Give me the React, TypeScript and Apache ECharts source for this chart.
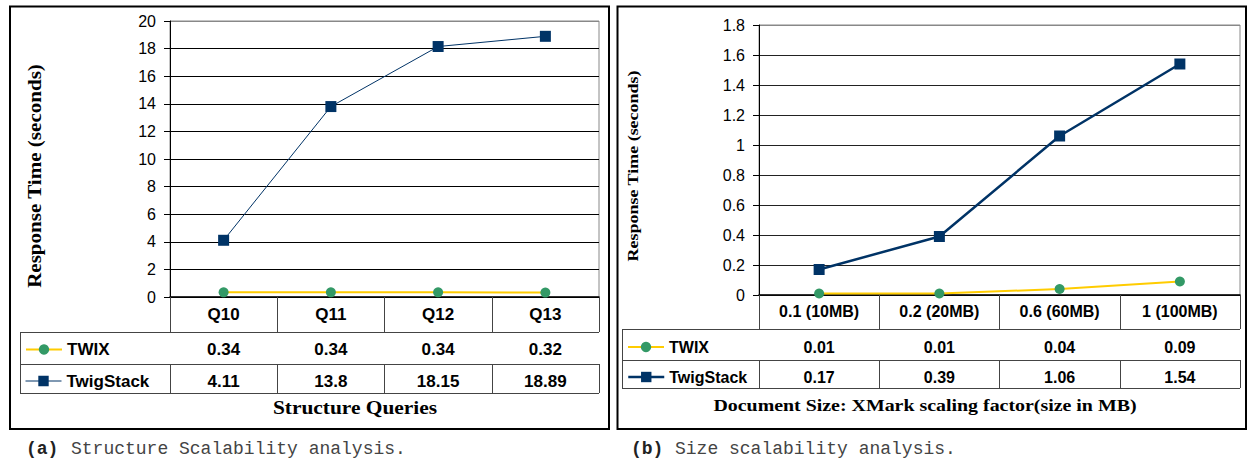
import React, { useEffect, useRef } from "react";
import * as echarts from "echarts";

// ---------------- data ----------------
const structureQueries = ["Q10", "Q11", "Q12", "Q13"];
const structureTwix = [0.34, 0.34, 0.34, 0.32];
const structureTwigStack = [4.11, 13.8, 18.15, 18.89];
const structureYMax = 20;
const structureYStep = 2;

const sizeFactors = ["0.1 (10MB)", "0.2 (20MB)", "0.6 (60MB)", "1 (100MB)"];
const sizeTwix = [0.01, 0.01, 0.04, 0.09];
const sizeTwigStack = [0.17, 0.39, 1.06, 1.54];
const sizeYMax = 1.8;
const sizeYStep = 0.2;

const seriesNames = ["TWIX", "TwigStack"];
const yAxisTitle = "Response Time (seconds)";
const structureXTitle = "Structure Queries";
const sizeXTitle = "Document Size: XMark scaling factor(size in MB)";
const captionA = ["(a)", "Structure Scalability analysis."];
const captionB = ["(b)", "Size scalability analysis."];

// ---------------- style ----------------
const SANS = '"Liberation Sans", Arial, Helvetica, sans-serif';
const SERIF = '"Liberation Serif", "Times New Roman", serif';
const MONO = '"Liberation Mono", "Courier New", monospace';
const NAVY = "#003366";
const GREEN = "#339966";
const YELLOW = "#FFCC00";
const TABLE_LINE = "#444";

type Panel = {
  cats: string[];
  twix: number[];
  twig: number[];
  yMax: number;
  yStep: number;
  frame: { x: number; y: number; w: number; h: number };
  grid: { left: number; top: number; width: number; height: number };
  tableLeft: number;
  rows: number[];
  margins: number[];
  axisFont: number;
  cellFont: number;
  legendLeft: number;
  gridColor: string;
  twigWidth: number;
  yFmt: (v: number) => string;
  yTitle: { x: number; y: number; size: number; sx: number };
  xTitle: { x: number; y: number; size: number; sx: number; text: string };
  caption: { x: number; x2: number; y: number; parts: string[] };
};

const panels: Panel[] = [
  {
    cats: structureQueries,
    twix: structureTwix,
    twig: structureTwigStack,
    yMax: structureYMax,
    yStep: structureYStep,
    frame: { x: 10, y: 6.5, w: 599, h: 422.5 },
    grid: { left: 170, top: 21, width: 429, height: 276 },
    tableLeft: 20,
    rows: [35, 32, 29],
    margins: [17.5, 17.5, 17],
    axisFont: 16,
    cellFont: 17,
    legendLeft: 25,
    gridColor: "#000",
    twigWidth: 1,
    yFmt: (v: number) => String(v),
    yTitle: { x: 35, y: 176, size: 18, sx: 1.17 },
    xTitle: { x: 355, y: 408, size: 18, sx: 1.19, text: structureXTitle },
    caption: { x: 26, x2: 71, y: 449, parts: captionA },
  },
  {
    cats: sizeFactors,
    twix: sizeTwix,
    twig: sizeTwigStack,
    yMax: sizeYMax,
    yStep: sizeYStep,
    frame: { x: 617.5, y: 6.5, w: 628.5, h: 422.5 },
    grid: { left: 759, top: 25, width: 481, height: 270 },
    tableLeft: 622,
    rows: [34, 31, 28],
    margins: [16.5, 18, 17],
    axisFont: 16,
    cellFont: 16,
    legendLeft: 627,
    gridColor: "#222",
    twigWidth: 2.5,
    yFmt: (v: number) => String(Math.round(v * 10) / 10),
    yTitle: { x: 633, y: 166, size: 15, sx: 1.2 },
    xTitle: { x: 925, y: 405, size: 17, sx: 1.17, text: sizeXTitle },
    caption: { x: 631, x2: 675, y: 449, parts: captionB },
  },
];

const sum = (a: number[]) => a.reduce((s, v) => s + v, 0);

function buildOption() {
  const grids: any[] = [];
  const xAxes: any[] = [];
  const yAxes: any[] = [];
  const series: any[] = [];
  const legends: any[] = [];
  const graphics: any[] = [];

  panels.forEach((p, pi) => {
    const bottom = p.grid.top + p.grid.height;
    const right = p.grid.left + p.grid.width;

    grids.push({
      ...p.grid,
      show: true,
      borderColor: "#888",
      borderWidth: 1,
      backgroundColor: "transparent",
    });

    const cellLabel = {
      interval: 0,
      fontFamily: SANS,
      fontWeight: "bold",
      fontSize: p.cellFont,
      color: "#000",
      verticalAlign: "middle",
    };

    // header axis (category names)
    xAxes.push({
      type: "category",
      gridIndex: pi,
      data: p.cats,
      position: "bottom",
      boundaryGap: true,
      axisLine: { show: true, onZero: false, lineStyle: { color: "#000", width: 1.5 } },
      axisTick: {
        show: true,
        interval: 0,
        alignWithLabel: false,
        length: p.rows[0],
        lineStyle: { color: TABLE_LINE, width: 1 },
      },
      axisLabel: { ...cellLabel, margin: p.margins[0] },
      splitLine: { show: false },
    });

    // table rows as offset axes
    [p.twix, p.twig].forEach((vals, ri) => {
      xAxes.push({
        type: "category",
        gridIndex: pi,
        data: p.cats,
        position: "bottom",
        boundaryGap: true,
        offset: sum(p.rows.slice(0, ri + 1)),
        axisLine: { show: false },
        axisTick: {
          show: true,
          interval: 0,
          alignWithLabel: false,
          length: p.rows[ri + 1],
          lineStyle: { color: TABLE_LINE, width: 1 },
        },
        axisLabel: {
          ...cellLabel,
          margin: p.margins[ri + 1],
          formatter: (_v: string, i: number) => String(vals[i]),
        },
        splitLine: { show: false },
      });
    });

    const nTicks = Math.round(p.yMax / p.yStep) + 1;
    yAxes.push({
      type: "value",
      gridIndex: pi,
      min: 0,
      max: p.yMax,
      interval: p.yStep,
      axisLine: { show: true, lineStyle: { color: "#000", width: 1 } },
      axisTick: { show: true, length: 6, lineStyle: { color: "#000" } },
      axisLabel: {
        fontFamily: SANS,
        fontSize: p.axisFont,
        color: "#000",
        margin: 14,
        formatter: p.yFmt,
      },
      splitLine: {
        show: true,
        lineStyle: {
          color: Array.from({ length: nTicks }, (_, i) => (i === nTicks - 1 ? "#888" : p.gridColor)),
          width: 1,
        },
      },
    });

    series.push({
      name: seriesNames[0],
      type: "line",
      xAxisIndex: pi * 3,
      yAxisIndex: pi,
      data: p.twix,
      symbol: "circle",
      symbolSize: 10,
      itemStyle: { color: GREEN },
      lineStyle: { color: YELLOW, width: 2 },
      silent: true,
      z: 3,
    });
    series.push({
      name: seriesNames[1],
      type: "line",
      xAxisIndex: pi * 3,
      yAxisIndex: pi,
      data: p.twig,
      symbol: "rect",
      symbolSize: 11,
      itemStyle: { color: NAVY },
      lineStyle: { color: NAVY, width: p.twigWidth },
      silent: true,
      z: 4,
    });

    seriesNames.forEach((name, ri) => {
      legends.push({
        left: p.legendLeft,
        top: bottom + sum(p.rows.slice(0, ri + 1)) + p.margins[ri + 1] - 10,
        orient: "vertical",
        padding: 0,
        itemWidth: 36,
        itemHeight: 13,
        selectedMode: false,
        data: [
          {
            name,
            itemStyle: { color: ri === 0 ? GREEN : NAVY },
            lineStyle: { color: ri === 0 ? YELLOW : NAVY, width: ri === 0 ? 2 : p.twigWidth },
          },
        ],
        textStyle: {
          fontFamily: SANS,
          fontWeight: "bold",
          fontSize: p.cellFont,
          color: "#000",
          lineHeight: 20,
        },
      });
    });

    // table outlines (legend column + horizontal rules)
    const y1 = bottom + p.rows[0];
    const y2 = y1 + p.rows[1];
    const y3 = y2 + p.rows[2];
    const ln = (x1: number, ya: number, x2: number, yb: number) => ({
      type: "line",
      silent: true,
      shape: { x1, y1: ya, x2, y2: yb },
      style: { stroke: TABLE_LINE, lineWidth: 1 },
    });
    graphics.push(
      ln(p.tableLeft, y1 + 0.5, right, y1 + 0.5),
      ln(p.tableLeft, y2 + 0.5, right, y2 + 0.5),
      ln(p.tableLeft, y3 + 0.5, right, y3 + 0.5),
      ln(p.tableLeft + 0.5, y1, p.tableLeft + 0.5, y3 + 1)
    );

    // outer frame
    graphics.push({
      type: "rect",
      silent: true,
      shape: { x: p.frame.x, y: p.frame.y, width: p.frame.w, height: p.frame.h },
      style: { fill: "none", stroke: "#000", lineWidth: 2 },
    });

    // axis titles
    graphics.push({
      type: "text",
      silent: true,
      x: p.yTitle.x,
      y: p.yTitle.y,
      rotation: Math.PI / 2,
      scaleX: p.yTitle.sx,
      style: {
        text: yAxisTitle,
        fontFamily: SERIF,
        fontWeight: "bold",
        fontSize: p.yTitle.size,
        fill: "#000",
        align: "center",
        verticalAlign: "middle",
      },
    });
    graphics.push({
      type: "text",
      silent: true,
      x: p.xTitle.x,
      y: p.xTitle.y,
      scaleX: p.xTitle.sx,
      style: {
        text: p.xTitle.text,
        fontFamily: SERIF,
        fontWeight: "bold",
        fontSize: p.xTitle.size,
        fill: "#000",
        align: "center",
        verticalAlign: "middle",
      },
    });

    // captions
    graphics.push({
      type: "text",
      silent: true,
      x: p.caption.x,
      y: p.caption.y,
      style: {
        text: p.caption.parts[0],
        fontFamily: MONO,
        fontWeight: "bold",
        fontSize: 18,
        fill: "#222",
        align: "left",
        verticalAlign: "middle",
      },
    });
    graphics.push({
      type: "text",
      silent: true,
      x: p.caption.x2,
      y: p.caption.y,
      style: {
        text: p.caption.parts[1],
        fontFamily: MONO,
        fontSize: 18,
        fill: "#444",
        align: "left",
        verticalAlign: "middle",
      },
    });
  });

  return {
    animation: false,
    backgroundColor: "#fff",
    textStyle: { fontFamily: SANS },
    grid: grids,
    xAxis: xAxes,
    yAxis: yAxes,
    series,
    legend: legends,
    graphic: graphics,
  };
}

export default function App() {
  const ref = useRef<HTMLDivElement>(null);
  useEffect(() => {
    if (!ref.current) return;
    const chart = echarts.init(ref.current, null, { renderer: "svg" });
    chart.setOption(buildOption() as any);
    return () => chart.dispose();
  }, []);
  return (
    <div
      ref={ref}
      style={{ position: "absolute", left: 0, top: 0, width: 1248, height: 460, background: "#fff" }}
    />
  );
}
